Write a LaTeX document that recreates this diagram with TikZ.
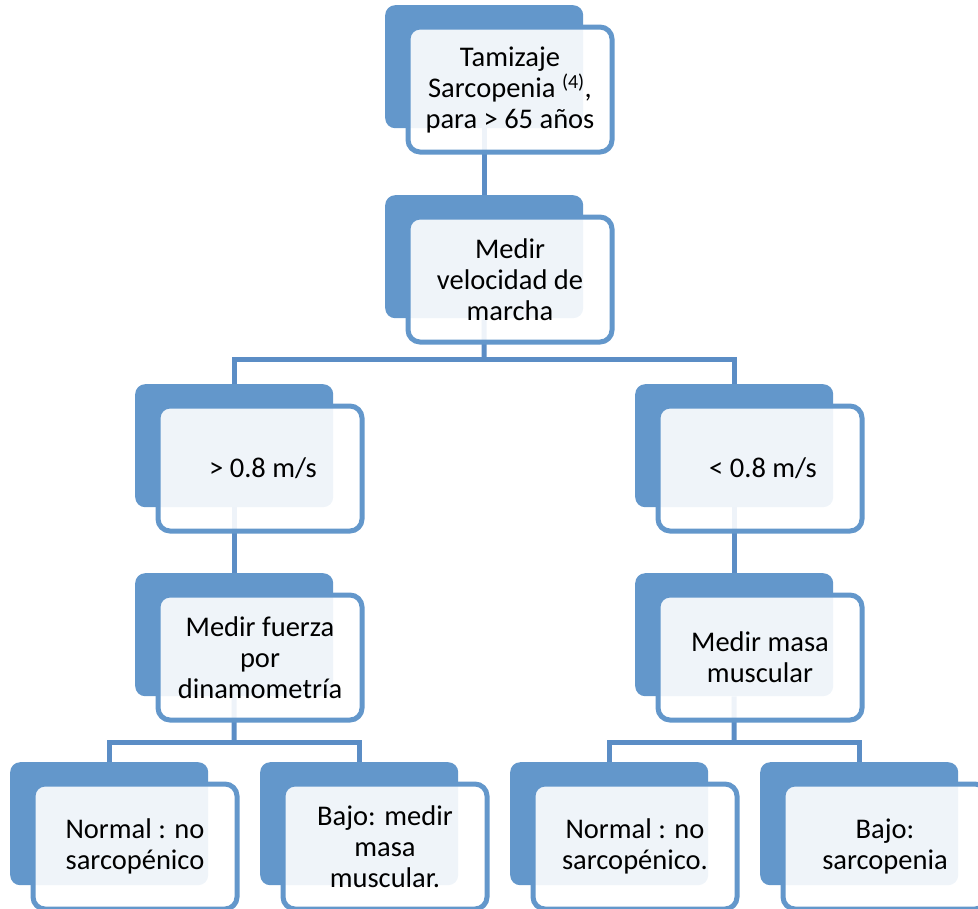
\documentclass[tikz,border=0pt]{standalone}
\usepackage{fontspec}
\setmainfont{Carlito}
\definecolor{boxblue}{HTML}{6397CB}
\definecolor{connblue}{HTML}{5B8DC5}
\tikzset{
  backbox/.style={fill=boxblue, rounded corners=10bp, minimum width=198bp, minimum height=123bp, inner sep=0pt, anchor=north west},
  frontbox/.style={draw=boxblue, line width=5bp, fill=white, fill opacity=0.9, text opacity=1, rounded corners=12bp, minimum width=204bp, minimum height=125bp, inner sep=0pt, anchor=north west, align=center, font=\fontsize{28.5bp}{31bp}\selectfont},
  conn/.style={draw=connblue, line width=5bp}
}
\begin{document}
\begin{tikzpicture}[x=1bp,y=-1bp]
\useasboundingbox (0,0) rectangle (978,909);
\clip (0,0) rectangle (978,909);
% back boxes
\node[backbox] (Ab) at (385,5) {};
\node[backbox] (Bb) at (385,195) {};
\node[backbox] (Cb) at (135,384) {};
\node[backbox] (Db) at (635,384) {};
\node[backbox] (Eb) at (135,573) {};
\node[backbox] (Fb) at (635,573) {};
\node[backbox] (Gb) at (10,762) {};
\node[backbox] (Hb) at (260,762) {};
\node[backbox] (Ib) at (510,762) {};
\node[backbox] (Jb) at (760,762) {};
% junctions
\coordinate (j1) at (484,359);
\coordinate (j2) at (234,742);
\coordinate (j3) at (734,742);
% connectors
\draw[conn] (Ab.south) -- (Bb.north);
\draw[conn] (Bb.south) -- (j1);
\draw[conn] (Cb.north) |- (j1) -| (Db.north);
\draw[conn] (Cb.south) -- (Eb.north);
\draw[conn] (Db.south) -- (Fb.north);
\draw[conn] (Eb.south) -- (j2);
\draw[conn] (Gb.north) |- (j2) -| (Hb.north);
\draw[conn] (Fb.south) -- (j3);
\draw[conn] (Ib.north) |- (j3) -| (Jb.north);
% front boxes
\node[frontbox] (A) at (405.5,24.5) {Tamizaje\\Sarcopenia \textsuperscript{(4)},\\para > 65 años};
\node[frontbox] (B) at (405.5,214.5) {Medir\\velocidad de\\marcha};
\node[frontbox] (C) at (155.5,403.5) {\hspace*{6bp}> 0.8 m/s};
\node[frontbox] (D) at (655.5,403.5) {\hspace*{6bp}< 0.8 m/s};
\node[frontbox] (E) at (155.5,592.5) {Medir fuerza\\por\\dinamometría};
\node[frontbox] (F) at (655.5,592.5) {Medir masa\\muscular};
\node[frontbox] (G) at (30.5,781.5) {Normal : no\\sarcopénico};
\node[frontbox] (H) at (280.5,781.5) {Bajo: medir\\masa\\muscular.};
\node[frontbox] (I) at (530.5,781.5) {Normal : no\\sarcopénico.};
\node[frontbox] (J) at (780.5,781.5) {Bajo:\\sarcopenia};
\end{tikzpicture}
\end{document}
